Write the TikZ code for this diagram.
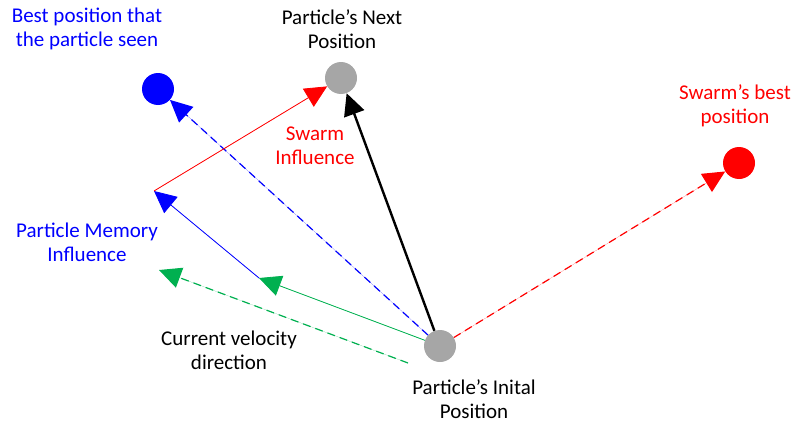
\documentclass[tikz,border=0pt]{standalone}
\usepackage{fontspec}
\setmainfont{Carlito}
\usepackage{tikz}
\usetikzlibrary{arrows.meta}
\definecolor{psoBlue}{HTML}{0000FF}
\definecolor{psoRed}{HTML}{FF0000}
\definecolor{psoGreen}{HTML}{00B050}
\definecolor{psoGrey}{HTML}{A6A6A6}

\begin{document}
\begin{tikzpicture}[x=1pt, y=-1pt,
        dot/.style={circle, minimum size=32pt, inner sep=0pt},
        lbl/.style={align=center, font=\fontsize{21}{24}\selectfont},
        headarr/.style={-{Triangle[length=22pt, width=21pt]}},
        thinarr/.style={headarr, line width=0.8pt},
        dasharr/.style={headarr, line width=1.2pt, dash pattern=on 8pt off 5pt}
    ]
        \useasboundingbox (0,0) rectangle (798,423);

        % positions
        \node[dot, fill=psoGrey] (init) at (440,346) {};
        \node[dot, fill=psoGrey] (next) at (341,78) {};
        \node[dot, fill=psoBlue] (pbest) at (158,89) {};
        \node[dot, fill=psoRed] (gbest) at (739,163) {};

        \coordinate (velEnd) at (259,278);
        \coordinate (memEnd) at (154,191);
        \coordinate (curStart) at (408,363);
        \coordinate (curEnd) at (159,270);

        % labels
        \node[lbl, text=psoBlue] (pbestLbl) at (87,29) {Best position that\\the particle seen};
        \node[lbl] (nextLbl) at (342,29) {Particle’s Next\\Position};
        \node[lbl, text=psoRed] (gbestLbl) at (735,106) {Swarm’s best\\position};
        \node[lbl, text=psoRed] (swarmLbl) at (315,146) {Swarm\\Influence};
        \node[lbl, text=psoBlue] (memLbl) at (87,242) {Particle Memory\\Influence};
        \node[lbl] (curLbl) at (229,350) {Current velocity\\direction};
        \node[lbl] (initLbl) at (474,399) {Particle’s Inital\\Position};

        % vectors
        \draw[dasharr, draw=psoGreen, fill=psoGreen] (curStart) -- (curEnd);
        \draw[dasharr, draw=psoBlue, fill=psoBlue] (init) -- (pbest);
        \draw[dasharr, draw=psoRed, fill=psoRed] (init) -- (gbest);
        \draw[thinarr, draw=psoGreen, fill=psoGreen] (init) -- (velEnd);
        \draw[thinarr, draw=psoBlue, fill=psoBlue] (velEnd) -- (memEnd);
        \draw[thinarr, draw=psoRed, fill=psoRed] (memEnd) -- (next);
        \draw[headarr, line width=2.4pt] (init) -- (next);
    \end{tikzpicture}
\end{document}
